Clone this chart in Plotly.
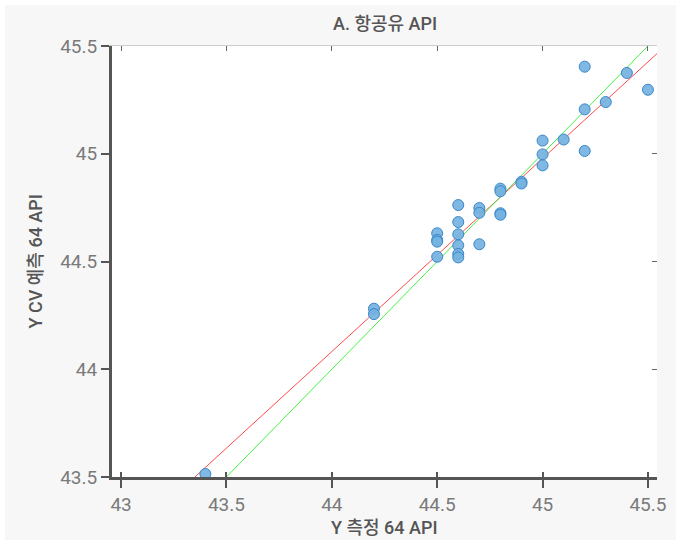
import plotly.graph_objects as go

# ---- data ----
x_measured = [43.4, 44.2, 44.2, 44.5, 44.5, 44.5, 44.5, 44.6, 44.6, 44.6, 44.6, 44.6, 44.6,
              44.7, 44.7, 44.7, 44.8, 44.8, 44.8, 44.8, 44.9, 44.9, 45.0, 45.0, 45.0,
              45.1, 45.2, 45.2, 45.2, 45.3, 45.4, 45.5]
y_predicted = [43.514, 44.281, 44.256, 44.631, 44.600, 44.592, 44.522, 44.762, 44.683, 44.626, 44.575, 44.535, 44.519,
               44.748, 44.726, 44.580, 44.838, 44.826, 44.724, 44.717, 44.870, 44.862, 45.061, 44.997, 44.946,
               45.066, 45.404, 45.206, 45.013, 45.240, 45.375, 45.297]
fit_slope = 0.896
fit_intercept = 4.658
line_x = [42.9, 45.6]
tick_vals = [43, 43.5, 44, 44.5, 45, 45.5]
tick_text = ["43", "43.5", "44", "44.5", "45", "45.5"]
ytick_vals = [43.5, 44, 44.5, 45, 45.5]
ytick_text = ["43.5", "44", "44.5", "45", "45.5"]

title_text = "A. 항공유 API"
x_title = "Y 측정 64 API"
y_title = "Y CV 예측 64 API"

FONT = "Roboto, Noto Sans CJK KR, sans-serif"
AX = "#555555"
TXT = "#555555"
TICKC = "#7a7a7a"

fig = go.Figure()
fig.add_trace(go.Scatter(x=line_x, y=[fit_intercept + fit_slope * v for v in line_x], mode="lines",
                         line=dict(color="#ff4a4a", width=1), hoverinfo="skip", showlegend=False))
fig.add_trace(go.Scatter(x=line_x, y=line_x, mode="lines",
                         line=dict(color="#44f044", width=1), hoverinfo="skip", showlegend=False))
fig.add_trace(go.Scatter(x=x_measured, y=y_predicted, mode="markers",
                         marker=dict(size=11, color="rgba(116,178,224,0.92)", line=dict(color="#3a86c8", width=1)),
                         showlegend=False))
# helper traces so the overlay axes (tick marks only) are drawn
fig.add_trace(go.Scatter(x=[43], y=[43.5], xaxis="x2", yaxis="y", mode="markers", marker=dict(opacity=0),
                         hoverinfo="skip", showlegend=False))
fig.add_trace(go.Scatter(x=[43], y=[43.5], xaxis="x3", yaxis="y", mode="markers", marker=dict(opacity=0),
                         hoverinfo="skip", showlegend=False))
fig.add_trace(go.Scatter(x=[43], y=[43.5], xaxis="x", yaxis="y2", mode="markers", marker=dict(opacity=0),
                         hoverinfo="skip", showlegend=False))

L, R, T, B = 112, 657, 46, 477
W, H = 680, 543
pw, ph = R - L, B - T
xr = [42.957, 45.543]

fig.update_layout(
    width=W, height=H,
    margin=dict(l=L, r=W - R, t=T, b=H - B),
    paper_bgcolor="white", plot_bgcolor="white",
    font=dict(family=FONT, color=TICKC, size=18),
    xaxis=dict(range=xr, tickvals=tick_vals, ticktext=tick_text, showgrid=False, zeroline=False,
               showline=True, linecolor=AX, linewidth=3, ticks="outside", ticklen=8, tickwidth=2,
               tickcolor=AX, tickfont=dict(size=19, color=TICKC)),
    xaxis2=dict(range=xr, overlaying="x", side="bottom", anchor="y", tickvals=tick_vals, showticklabels=False,
                showgrid=False, zeroline=False, showline=False, ticks="inside", ticklen=5, tickwidth=2,
                tickcolor=AX),
    xaxis3=dict(range=xr, overlaying="x", side="top", anchor="y", tickvals=tick_vals, showticklabels=False,
                showgrid=False, zeroline=False, showline=True, linecolor="#cccccc", linewidth=1,
                ticks="inside", ticklen=5, tickwidth=1, tickcolor="#666666"),
    yaxis=dict(range=[43.5, 45.5], tickvals=ytick_vals, ticktext=ytick_text,
               showgrid=False, zeroline=False, showline=True, linecolor=AX, linewidth=3,
               ticks="outside", ticklen=8, tickwidth=2, tickcolor=AX, tickfont=dict(size=19, color=TICKC)),
    yaxis2=dict(range=[43.5, 45.5], overlaying="y", side="right", anchor="x", tickvals=ytick_vals,
                showticklabels=False, showgrid=False, zeroline=False, showline=False,
                ticks="inside", ticklen=5, tickwidth=1, tickcolor="#666666"),
    shapes=[
        dict(type="rect", xref="paper", yref="paper", layer="below",
             x0=(5 - L) / pw, x1=(676 - L) / pw, y0=(B - 540) / ph, y1=(B - 5) / ph,
             fillcolor="#f7f7f7", line=dict(width=0)),
        dict(type="rect", xref="paper", yref="paper", layer="below",
             x0=0, x1=1, y0=0, y1=1, fillcolor="white", line=dict(width=0)),
    ],
    annotations=[
        dict(text=title_text, xref="paper", yref="paper", x=0.5, y=(B - 23) / ph, xanchor="center",
             yanchor="middle", showarrow=False, font=dict(size=18, color=TXT, family=FONT, weight=500)),
        dict(text=x_title, xref="paper", yref="paper", x=0.5, y=(B - 527) / ph,
             xanchor="center", yanchor="middle", showarrow=False,
             font=dict(size=18, color=TXT, family=FONT, weight=500)),
        dict(text=y_title, xref="paper", yref="paper", x=(35 - L) / pw, y=0.5, textangle=-90,
             xanchor="center", yanchor="middle", showarrow=False,
             font=dict(size=18, color=TXT, family=FONT, weight=500)),
    ],
)

fig.write_html("out.html")
